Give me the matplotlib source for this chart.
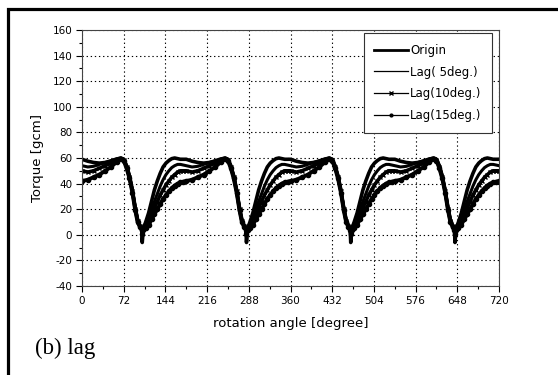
import numpy as np
import matplotlib
matplotlib.use('Agg')
import matplotlib.pyplot as plt
from matplotlib.patches import Rectangle
from matplotlib.ticker import MultipleLocator

plt.rcParams['axes.unicode_minus'] = False

# one rotation period (180 deg), repeated 4 times
phase = [0, 10, 20, 30, 40, 50, 60, 67, 72, 77, 82, 87, 92, 96, 100, 103, 104, 106,
         110, 115, 120, 125, 130, 135, 140, 145, 150, 155, 160, 165, 170, 175]
origin = [59, 57.5, 56.5, 56, 56.5, 57.5, 59, 60, 59, 54, 46, 35, 21, 12, 7, 5, -6, 5,
          10, 17, 26, 35, 42, 48, 53, 56, 58, 59.5, 60, 59.5, 59, 59]
lag5 = [54, 53, 53.5, 55, 56.5, 58, 59.5, 60, 59, 54, 46, 35, 21, 12, 7, 6, 3, 6,
        9, 14, 20, 26, 32, 38, 43, 47, 50, 52.5, 54, 55, 55, 54.5]
lag10 = [50, 49, 50, 52, 54, 56, 58.5, 59.5, 58.5, 53, 45, 34, 20, 11, 7, 5, 2, 5,
         7, 11, 16, 21, 26, 31, 35, 39, 42, 45, 47, 49, 50, 50]
lag15 = [42, 43, 45, 47, 50, 53, 57, 59, 58, 52, 44, 33, 19, 10, 6, 4, 1, 4,
         5, 8, 12, 16, 20, 24, 28, 31, 34, 36.5, 38.5, 40, 41, 41.5]
n_periods = 4

xticks = [0, 72, 144, 216, 288, 360, 432, 504, 576, 648, 720]

angle = np.concatenate([np.array(phase) + 180 * k for k in range(n_periods)] + [[720]])
def rep(v):
    return np.concatenate([v] * n_periods + [[v[0]]])

fig = plt.figure(figsize=(5.58, 3.75), dpi=100)
ax = fig.add_axes([82/558, 1 - 286/375, 417/558, 256/375])

ax.plot(angle, rep(lag15), 'k-', lw=2.8, marker='o', ms=3, label='_')
ax.plot(angle, rep(lag10), 'k-', lw=2.6, marker='x', ms=3.5, label='_')
ax.plot(angle, rep(lag5), 'k-', lw=2.2, label='_')
ax.plot(angle, rep(origin), 'k-', lw=2.6, label='_')

# legend proxies in the original order
h_o, = ax.plot([], [], 'k-', lw=2, label='Origin')
h_5, = ax.plot([], [], 'k-', lw=0.9, label='Lag( 5deg.)')
h_10, = ax.plot([], [], 'k-', lw=0.9, marker='x', ms=3, label='Lag(10deg.)')
h_15, = ax.plot([], [], 'k-', lw=0.9, marker='o', ms=2, label='Lag(15deg.)')
leg = ax.legend(handles=[h_o, h_5, h_10, h_15], loc='upper right',
                bbox_to_anchor=(0.983, 0.988), borderaxespad=0, fancybox=False,
                edgecolor='#333333', fontsize=8.5, handlelength=2.8,
                labelspacing=0.75, borderpad=0.9, handletextpad=0.2, framealpha=1)
leg.get_frame().set_linewidth(0.8)

ax.set_xlim(0, 720)
ax.set_ylim(-40, 160)
ax.set_xticks(xticks)
ax.xaxis.set_minor_locator(MultipleLocator(36))
ax.yaxis.set_major_locator(MultipleLocator(20))
ax.yaxis.set_minor_locator(MultipleLocator(10))
ax.tick_params(which='major', direction='out', length=4, width=0.8, labelsize=7.5, pad=3)
ax.tick_params(which='minor', direction='out', length=2.5, width=0.8)
ax.grid(True, which='major', color='k', linestyle=(0, (1.2, 2.5)), linewidth=0.8)
for s in ax.spines.values():
    s.set_linewidth(0.8)
    s.set_color('#444444')

ax.set_xlabel('rotation angle [degree]', fontsize=9.5, labelpad=8)
ax.set_ylabel('Torque [gcm]', fontsize=9.5, labelpad=6)

fig.text(35/558, 1 - 348/375, '(b) lag', family='Liberation Serif', fontsize=16.5, va='center')
fig.patches.append(Rectangle((7.5/558, -0.2), 1.5, 1.2 - 8.5/375, transform=fig.transFigure,
                             fill=False, edgecolor='k', linewidth=2.3))

fig.savefig('out.png', dpi=100)
